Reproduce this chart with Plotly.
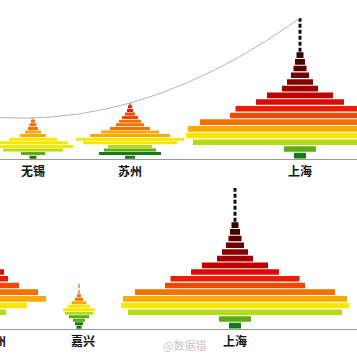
import numpy as np
import plotly.graph_objects as go

# ---------------- data ----------------
# colour of each height class (0 = lowest, 15 = highest)
class_colors = ["#167a16", "#5faa15", "#b4dc12", "#f7e600", "#f9aa00", "#f47200",
                "#f24800", "#ea1e00", "#de0800", "#bf0000", "#a00000", "#880000",
                "#700000", "#5a0000", "#480000", "#380000"]

top_cities = ["无锡", "苏州", "上海"]
bottom_cities = ["杭州", "嘉兴", "上海"]

# half widths of each storey (bottom -> top) and height class of each storey
wuxi_half = [3.5, 12, 30, 40, 35, 24, 13, 8, 5, 3.5, 2]
wuxi_class = [0, 1, 2, 3, 3, 3, 4, 4, 5, 5, 5]
wuxi_storey = 3.6
wuxi_spike = 41

suzhou_half = [5, 31, 26, 22, 47, 54, 40, 29, 20, 14, 11, 8, 5, 3, 2]
suzhou_class = [0, 0, 1, 2, 3, 3, 4, 4, 5, 5, 5, 6, 6, 7, 7]
suzhou_storey = 3.6
suzhou_spike = 56

shanghai_half = [6, 16, 107, 114, 112, 100, 70, 64.5, 44, 33, 18, 13, 9, 6.5, 5, 3.5]
shanghai_class = list(range(16))
shanghai_storey = 6.7
shanghai_spike = 141

hangzhou_half = [0, 4, 10, 31, 50, 42, 23, 12, 8]
hangzhou_class = [0, 1, 2, 3, 4, 5, 6, 7, 8]
hangzhou_storey = 6.7
hangzhou_spike = 60

jiaxing_half = [2.5, 4, 6, 10, 14, 16, 11, 7.5, 4, 2]
jiaxing_class = [0, 0, 1, 1, 2, 3, 3, 4, 5, 5]
jiaxing_storey = 3.5
jiaxing_spike = 46

# ---------------- layout constants ----------------
W = H = 357
top_centers = [33, 130, 300]
bottom_centers = [-4, 79, 235]
label_font = dict(size=12, color="#111", family="Noto Sans CJK SC")

fig = go.Figure()

n_cls = len(class_colors)
cscale = []
for k, c in enumerate(class_colors):
    cscale.append([k / n_cls, c])
    cscale.append([(k + 1) / n_cls, c])


def add_pagoda(cx, half, cls, storey, spike, xa, ya, spike_color, spike_w):
    half = np.asarray(half, float)
    yc = (np.arange(len(half)) + 0.5) * storey
    fig.add_trace(go.Bar(
        orientation="h", y=yc, x=2 * half, base=cx - half,
        width=storey * 0.84,
        marker=dict(color=np.asarray(cls) + 0.5, colorscale=cscale, cmin=0, cmax=n_cls,
                    line=dict(width=0)),
        xaxis=xa, yaxis=ya, showlegend=False, hoverinfo="skip"))
    top = len(half) * storey
    if spike > top:
        fig.add_trace(go.Scatter(
            x=[cx, cx], y=[top, spike], mode="lines",
            line=dict(color=spike_color, width=spike_w, dash="4px,2px"),
            xaxis=xa, yaxis=ya, showlegend=False, hoverinfo="skip"))


# top row
add_pagoda(top_centers[0], wuxi_half, wuxi_class, wuxi_storey, wuxi_spike, "x", "y", "#f08000", 1.5)
add_pagoda(top_centers[1], suzhou_half, suzhou_class, suzhou_storey, suzhou_spike, "x", "y", "#e04000", 1.5)
add_pagoda(top_centers[2], shanghai_half, shanghai_class, shanghai_storey, shanghai_spike, "x", "y", "#111111", 3)

# curve through tops of the top-row towers
tops_x = np.array(top_centers, float)
tops_y = np.array([wuxi_spike, suzhou_spike, shanghai_spike], float)
coef = np.polyfit(tops_x, tops_y, 2)
cx_line = np.linspace(0, tops_x[-1], 120)
fig.add_trace(go.Scatter(x=cx_line, y=np.polyval(coef, cx_line), mode="lines",
                         line=dict(color="#b4b4b4", width=1), xaxis="x", yaxis="y",
                         showlegend=False, hoverinfo="skip"))

# bottom row
add_pagoda(bottom_centers[0], hangzhou_half, hangzhou_class, hangzhou_storey, hangzhou_spike, "x2", "y2", "#c00000", 1.5)
add_pagoda(bottom_centers[1], jiaxing_half, jiaxing_class, jiaxing_storey, jiaxing_spike, "x2", "y2", "#f06000", 1.2)
add_pagoda(bottom_centers[2], shanghai_half, shanghai_class, shanghai_storey, shanghai_spike, "x2", "y2", "#111111", 3)

ann = []
for name, cx in zip(top_cities, top_centers):
    ann.append(dict(x=cx, y=-11, xref="x", yref="y", text="<b>%s</b>" % name,
                    showarrow=False, font=label_font))
# first bottom label sits at the left edge of the picture
ann.append(dict(x=(bottom_centers[0] + 12) / W, y=-11, xref="paper", yref="y2", xanchor="right",
                text="<b>%s</b>" % bottom_cities[0], showarrow=False, font=label_font))
for name, cx in zip(bottom_cities[1:], bottom_centers[1:]):
    ann.append(dict(x=cx + (4 if name == "嘉兴" else 0), y=-11, xref="x2", yref="y2",
                    text="<b>%s</b>" % name, showarrow=False, font=label_font))
ann.append(dict(x=184, y=-16, xref="x2", yref="y2", text="@数据猎",
                showarrow=False, font=dict(size=11, color="#c8c8c8", family="Noto Sans CJK SC")))

axis_common = dict(showgrid=False, showticklabels=False, ticks="", showline=False)
fig.update_layout(
    width=W, height=H, margin=dict(l=0, r=0, t=0, b=0),
    paper_bgcolor="white", plot_bgcolor="white", barmode="overlay",
    xaxis=dict(range=[0, W], domain=[0, 1], anchor="y", zeroline=False, **axis_common),
    yaxis=dict(range=[-19.5, 159], domain=[0.5, 1], anchor="x", zeroline=True,
               zerolinecolor="#999999", zerolinewidth=1, **axis_common),
    xaxis2=dict(range=[0, W], domain=[0, 1], anchor="y2", zeroline=False, **axis_common),
    yaxis2=dict(range=[-28, 150.5], domain=[0, 0.5], anchor="x2", zeroline=True,
                zerolinecolor="#999999", zerolinewidth=1, **axis_common),
    annotations=ann,
)

fig.write_html("out.html", config={"displayModeBar": False},
               post_script="document.body.style.margin='0';")
